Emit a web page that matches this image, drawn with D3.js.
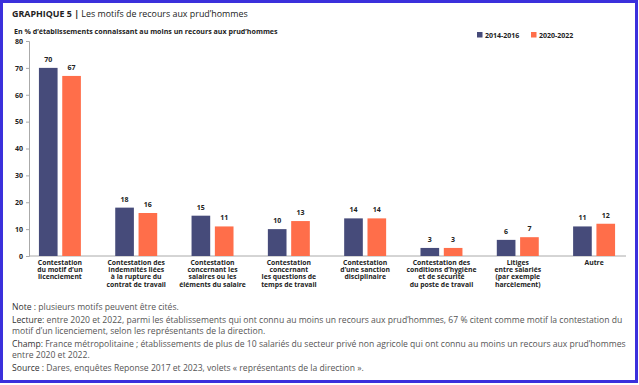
<!DOCTYPE html>
<html>
<head>
<meta charset="utf-8">
<script src="https://cdn.jsdelivr.net/npm/d3@7"></script>
<style>
  body { margin: 0; background: #fff; }
  svg { display: block; font-family: "Open Sans", "Noto Sans", sans-serif; }
</style>
</head>
<body>
<svg id="chart" width="639" height="385"></svg>
<script>
// donnees
var categories = [
    ["Contestation", "du motif d’un", "licenciement"],
    ["Contestation des", "indemnités liées", "à la rupture du", "contrat de travail"],
    ["Contestation", "concernant les", "salaires ou les", "éléments du salaire"],
    ["Contestation", "concernant", "les questions de", "temps de travail"],
    ["Contestation", "d’une sanction", "disciplinaire"],
    ["Contestation des", "conditions d’hygiène", "et de sécurité", "du poste de travail"],
    ["Litiges", "entre salariés", "(par exemple", "harcèlement)"],
    ["Autre"]
];
var series = ["2014-2016", "2020-2022"];
var values2014 = [70, 18, 15, 10, 14, 3, 6, 11];
var values2020 = [67, 16, 11, 13, 14, 3, 7, 12];
var yTicks = [0, 10, 20, 30, 40, 50, 60, 70, 80];
var noteLabels = ["Note :", "Lecture:", "Champ:", "Source :"];
var notes = [
    [" plusieurs motifs peuvent être cités."],
    [" entre 2020 et 2022, parmi les établissements qui ont connu au moins un recours aux prud’hommes, 67 % citent comme motif la contestation du",
     "motif d’un licenciement, selon les représentants de la direction."],
    [" France métropolitaine ; établissements de plus de 10 salariés du secteur privé non agricole qui ont connu au moins un recours aux prud’hommes",
     "entre 2020 et 2022."],
    [" Dares, enquêtes Reponse 2017 et 2023, volets « représentants de la direction »."]
];

var colors = ["#464b7a", "#ff6e4a"];
var svg = d3.select('#chart');

// cadre
svg.append('rect').attr('x', 1.5).attr('y', 1.5).attr('width', 635).attr('height', 380)
    .attr('fill', '#fff').attr('stroke', '#3b30dc').attr('stroke-width', 3);

// titre
var title = svg.append('text').attr('x', 12).attr('y', 17).attr('font-size', 8.9).attr('fill', '#222');
title.append('tspan').attr('font-weight', 'bold').text('GRAPHIQUE 5 | ');
title.append('tspan').text('Les motifs de recours aux prud’hommes');

svg.append('text').attr('x', 14).attr('y', 34).attr('font-size', 7.1).attr('font-weight', 'bold')
    .attr('fill', '#222').text('En % d’établissements connaissant au moins un recours aux prud’hommes');

// legende
var legend = svg.selectAll('.leg').data(series).enter().append('g').attr('class', 'leg')
    .attr('transform', function(d, i){ return 'translate(' + [477 + i * 54, 32] + ')'; });
legend.append('rect').attr('width', 5.5).attr('height', 5.5).attr('fill', function(d, i){ return colors[i]; });
legend.append('text').attr('x', 8).attr('y', 5.5).attr('font-size', 7).attr('font-weight', 'bold')
    .attr('fill', '#222').text(function(d){ return d; });

// echelles
var y = d3.scaleLinear().domain([0, 80]).range([256, 41]);
var x = d3.scaleBand().domain(d3.range(categories.length)).range([29, 625])
    .paddingInner(0.45).paddingOuter(0.13);
var x1 = d3.scaleBand().domain([0, 1]).range([0, x.bandwidth()]).paddingInner(0.2);

// axe y
var yAxis = svg.append('g').attr('transform', 'translate(29,0)')
    .call(d3.axisLeft(y).tickValues(yTicks).tickSize(3).tickPadding(3));
yAxis.select('.domain').attr('stroke', '#aaa');
yAxis.selectAll('.tick line').attr('stroke', '#aaa');
yAxis.selectAll('.tick text').attr('font-size', 7).attr('font-weight', 'bold')
    .attr('fill', '#222').attr('font-family', '"Open Sans", sans-serif');

// axe x
svg.append('line').attr('x1', 29).attr('x2', 626).attr('y1', y(0)).attr('y2', y(0))
    .attr('stroke', '#aaa').attr('stroke-width', 1);

// barres
var rows = categories.map(function(c, i){ return [values2014[i], values2020[i]]; });
var groups = svg.selectAll('.grp').data(rows).enter().append('g').attr('class', 'grp')
    .attr('transform', function(d, i){ return 'translate(' + x(i) + ',0)'; });
groups.selectAll('rect').data(function(d){ return d; }).enter().append('rect')
    .attr('x', function(d, j){ return x1(j); })
    .attr('width', x1.bandwidth())
    .attr('y', function(d){ return y(d); })
    .attr('height', function(d){ return y(0) - y(d); })
    .attr('fill', function(d, j){ return colors[j]; });
groups.selectAll('.val').data(function(d){ return d; }).enter().append('text').attr('class', 'val')
    .attr('x', function(d, j){ return x1(j) + x1.bandwidth() / 2; })
    .attr('y', function(d){ return y(d) - 6; })
    .attr('text-anchor', 'middle').attr('font-size', 7).attr('font-weight', 'bold').attr('fill', '#222')
    .text(function(d){ return d; });

// libelles des categories
svg.selectAll('.cat').data(categories).enter().append('text').attr('class', 'cat')
    .attr('text-anchor', 'middle').attr('font-size', 6.8).attr('font-weight', 'bold').attr('fill', '#222')
    .each(function(lines, i){
        var t = d3.select(this);
        lines.forEach(function(l, k){
            t.append('tspan').attr('x', x(i) + x.bandwidth() / 2).attr('y', 265 + k * 7.2).text(l);
        });
    });

// notes
var ny = 310;
notes.forEach(function(p, i){
    p.forEach(function(l, k){
        var t = svg.append('text').attr('x', 12).attr('y', ny).attr('font-size', 8.6).attr('fill', '#555');
        if (k === 0) t.append('tspan').attr('fill', '#333').text(noteLabels[i]);
        t.append('tspan').text(l);
        if (k < p.length - 1) ny += 11;
    });
    ny += 13;
});
</script>
</body>
</html>
